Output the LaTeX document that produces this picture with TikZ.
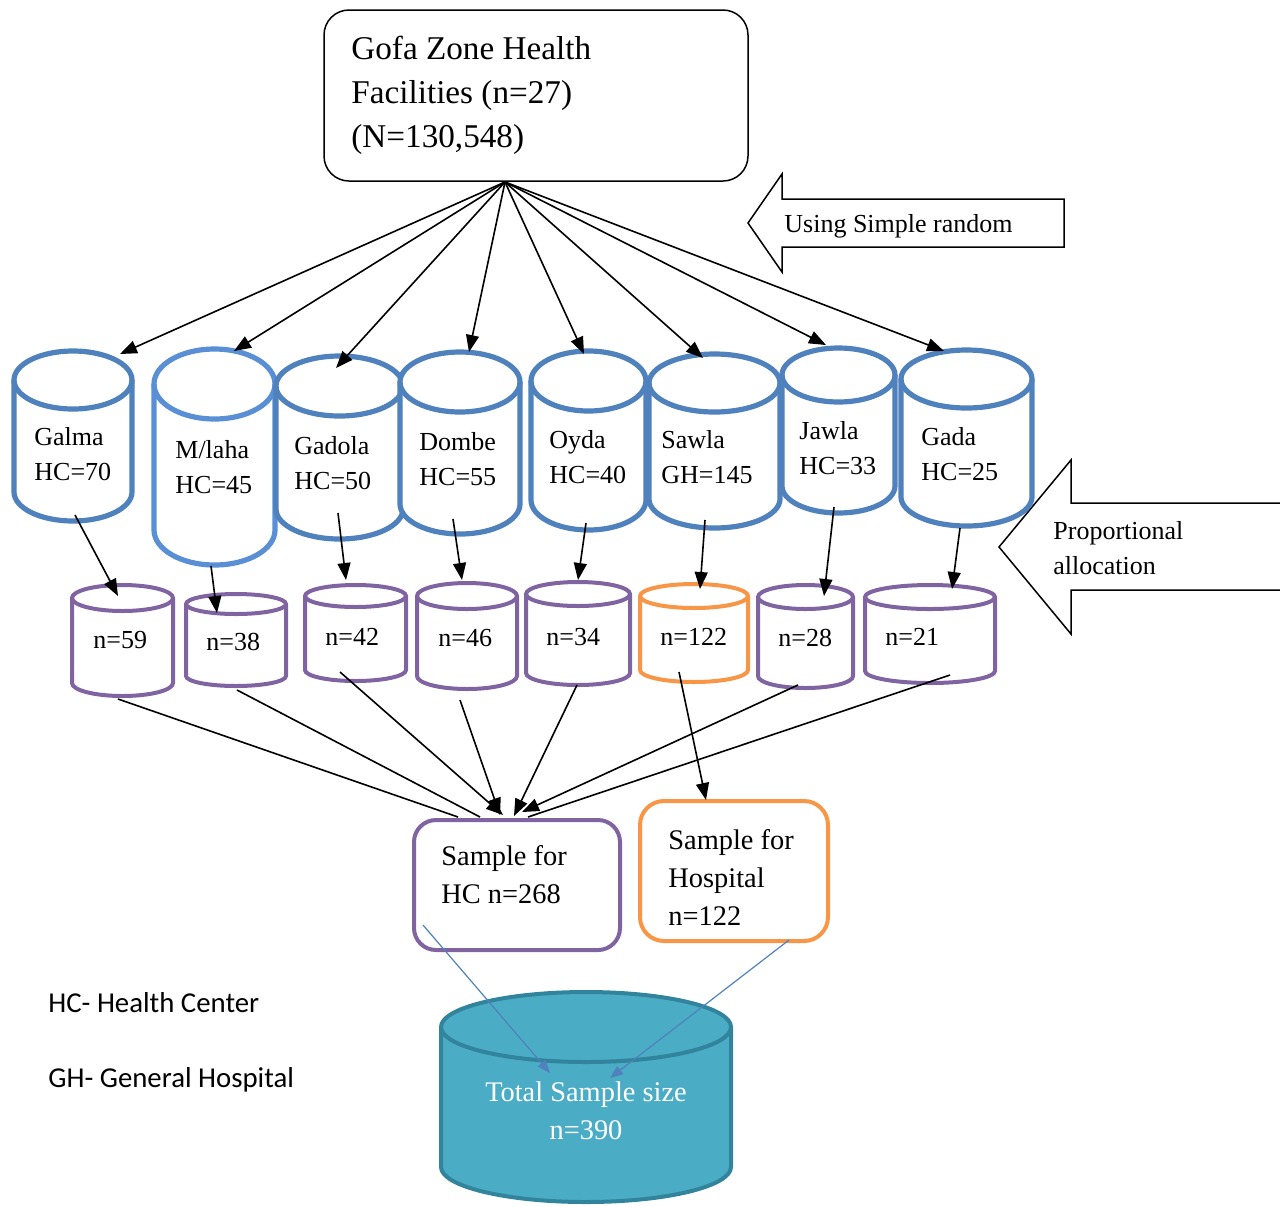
\documentclass[tikz,border=0pt]{standalone}
\usepackage{fontspec}
\setmainfont{Liberation Serif}
\newfontfamily\legendfont{Carlito}
\usetikzlibrary{arrows.meta}

\definecolor{drumblue}{HTML}{4F81BD}
\definecolor{drumbluelight}{HTML}{5A8FD6}
\definecolor{sampviolet}{HTML}{8064A2}
\definecolor{samporange}{HTML}{F79646}
\definecolor{totalfill}{HTML}{4BACC6}
\definecolor{totaledge}{HTML}{31849B}

% drum: style, left x, right x, top y, bottom y, lid half-height
\newcommand\drum[6]{%
  \pgfmathsetmacro\drumrx{(#3-#2)/4}%
  \pgfmathsetmacro\drumry{#6/2}%
  \path[#1] (#2,{#4+#6}) -- (#2,{#5-#6})
    arc[start angle=180,end angle=360,x radius=\drumrx pt,y radius=\drumry pt]
    -- (#3,{#4+#6})
    arc[start angle=0,end angle=180,x radius=\drumrx pt,y radius=\drumry pt] -- cycle;
  \path[#1,fill=none] (#2,{#4+#6})
    arc[start angle=180,end angle=360,x radius=\drumrx pt,y radius=\drumry pt];
}

\tikzset{
  bigdrum/.style={draw=drumblue,line width=2.6pt,fill=white},
  bigdrumlight/.style={draw=drumbluelight,line width=2.6pt,fill=white},
  smalldrum/.style={draw=sampviolet,line width=2pt,fill=white},
  hospdrum/.style={draw=samporange,line width=2pt,fill=white},
  totaldrum/.style={draw=totaledge,line width=2pt,fill=totalfill},
  feed/.style={draw=black,line width=0.8pt,-{Triangle[length=8.5pt,width=6.5pt]}},
  plainfeed/.style={draw=black,line width=0.8pt},
  bluefeed/.style={draw=drumblue,line width=0.6pt,-{Triangle[length=6.5pt,width=5pt]}},
  blockarrow/.style={draw=black,line width=0.75pt,line join=miter},
  lbl/.style={anchor=west,inner sep=0pt,align=left,font=\fontsize{13}{17.25}\selectfont},
  boxlbl/.style={anchor=west,inner sep=0pt,align=left,font=\fontsize{14.2}{19}\selectfont},
  legend/.style={anchor=west,inner sep=0pt,font=\legendfont\fontsize{14.4}{17}\selectfont},
}

\begin{document}
\begin{tikzpicture}[x=0.5pt,y=-0.5pt]
\useasboundingbox (0,0) rectangle (1280,1206);

% top box
\node[draw,line width=0.75pt,rounded corners=12.5pt,minimum width=212pt,
      minimum height=85.5pt,inner sep=0pt] (zone) at (536,95.5) {};
\node[anchor=west,inner sep=0pt,align=left,font=\fontsize{16.6}{22}\selectfont]
  (zonetext) at (351,95) {Gofa Zone Health\\Facilities (n=27)\\(N=130,548)};

% block arrows
\draw[blockarrow] (748,223) -- (782,174) -- (782,199) -- (1064,199)
  -- (1064,247) -- (782,247) -- (782,272) -- cycle;
\node[lbl] (simple) at (784,226) {Using Simple random};
\draw[blockarrow] (1280,503) -- (1071,503) -- (1071,460) -- (999,547)
  -- (1071,634) -- (1071,590) -- (1280,590);
\node[lbl] (prop) at (1053,548) {Proportional\\allocation};

% facility drums
\drum{bigdrum}{14}{132}{351}{521}{29}
\drum{bigdrumlight}{154}{275}{349}{565}{35}
\drum{bigdrum}{276}{403}{356}{539}{30}
\drum{bigdrum}{400}{520}{352}{534}{30}
\drum{bigdrum}{531}{646}{351}{530}{30}
\drum{bigdrum}{649}{780}{354}{528}{29}
\drum{bigdrum}{782}{895}{348}{513}{27}
\drum{bigdrum}{901}{1032}{350}{526}{29}

\node[lbl] (galma)  at (34,454)  {Galma\\HC=70};
\node[lbl] (mlaha)  at (175,467) {M/laha\\HC=45};
\node[lbl] (gadola) at (294,463) {Gadola\\HC=50};
\node[lbl] (dombe)  at (419,459) {Dombe\\HC=55};
\node[lbl] (oyda)   at (549,457) {Oyda\\HC=40};
\node[lbl] (sawla)  at (661,457) {Sawla\\GH=145};
\node[lbl] (jawla)  at (799,448) {Jawla\\HC=33};
\node[lbl] (gada)   at (921,454) {Gada\\HC=25};

% sample drums
\drum{smalldrum}{72}{173}{585}{696}{13}
\drum{smalldrum}{186}{286}{594}{686}{10}
\drum{smalldrum}{305}{406}{585}{681}{11}
\drum{smalldrum}{417}{517}{583}{689}{13}
\drum{smalldrum}{526}{630}{582}{685}{12}
\drum{hospdrum}{640}{748}{584}{682}{12}
\drum{smalldrum}{758}{853}{585}{688}{12}
\drum{smalldrum}{865}{995}{585}{683}{12}

\node[lbl] (s59)  at (93,640)  {n=59};
\node[lbl] (s38)  at (206,642) {n=38};
\node[lbl] (s42)  at (325,637) {n=42};
\node[lbl] (s46)  at (438,638) {n=46};
\node[lbl] (s34)  at (546,637) {n=34};
\node[lbl] (s122) at (660,637) {n=122};
\node[lbl] (s28)  at (778,638) {n=28};
\node[lbl] (s21)  at (885,637) {n=21};

% summary boxes
\node[draw=sampviolet,line width=2pt,rounded corners=11pt,minimum width=103pt,
      minimum height=65pt,inner sep=0pt] (hcbox) at (517,885) {};
\node[boxlbl] (hctext) at (441,875) {Sample for\\HC n=268};
\node[draw=samporange,line width=2pt,rounded corners=12pt,minimum width=94pt,
      minimum height=70pt,inner sep=0pt] (hospbox) at (734,871) {};
\node[boxlbl] (hosptext) at (668,877) {Sample for\\Hospital\\n=122};

% total drum
\drum{totaldrum}{441}{731}{992}{1202}{35}
\node[anchor=center,inner sep=0pt,align=center,text=white,
      font=\fontsize{14.2}{19}\selectfont] (total) at (586,1111)
  {Total Sample size\\n=390};

% legend
\node[legend] (leghc) at (48,1003) {HC- Health Center};
\node[legend] (leggh) at (48,1080) {GH- General Hospital};

% connector end points
\coordinate (fan) at (505,182);
\coordinate (t1) at (120,354);  \coordinate (t2) at (234,351);
\coordinate (t3) at (336,368);  \coordinate (t4) at (469,352);
\coordinate (t5) at (584,354);  \coordinate (t6) at (703,358);
\coordinate (t7) at (826,345);  \coordinate (t8) at (944,351);

\coordinate (f1) at (75,515);   \coordinate (d1) at (118,596);
\coordinate (f2) at (211,566);  \coordinate (d2) at (217,613);
\coordinate (f3) at (338,513);  \coordinate (d3) at (346,580);
\coordinate (f4) at (453,519);  \coordinate (d4) at (462,580);
\coordinate (f5) at (586,523);  \coordinate (d5) at (578,580);
\coordinate (f6) at (705,520);  \coordinate (d6) at (700,589);
\coordinate (f7) at (834,507);  \coordinate (d7) at (824,596);
\coordinate (f8) at (960,528);  \coordinate (d8) at (952,589);

\coordinate (b1) at (118,699);  \coordinate (h1) at (458,817);
\coordinate (b2) at (237,690);  \coordinate (h2) at (480,817);
\coordinate (b3) at (340,672);  \coordinate (h3) at (503,815);
\coordinate (b4) at (460,700);  \coordinate (h4) at (500,815);
\coordinate (b5) at (577,685);  \coordinate (h5) at (514,816);
\coordinate (b6) at (679,672);  \coordinate (h6) at (706,800);
\coordinate (b7) at (798,685);  \coordinate (h7) at (522,812);
\coordinate (b8) at (950,675);  \coordinate (h8) at (528,817);

\coordinate (hcout) at (423,925);   \coordinate (hcin) at (550,1073);
\coordinate (hospout) at (789,940); \coordinate (hospin) at (610,1078);

% random selection fan
\foreach \t in {t1,t2,t3,t4,t5,t6,t7,t8}
  \draw[feed] (fan) -- (\t);

% proportional allocation
\foreach \a/\b in {f1/d1,f2/d2,f3/d3,f4/d4,f5/d5,f6/d6,f7/d7,f8/d8}
  \draw[feed] (\a) -- (\b);

% pooling into summaries
\draw[plainfeed] (b1) -- (h1);
\draw[plainfeed] (b2) -- (h2);
\draw[feed] (b3) -- (h3);
\draw[feed] (b4) -- (h4);
\draw[feed] (b5) -- (h5);
\draw[feed] (b6) -- (h6);
\draw[feed] (b7) -- (h7);
\draw[plainfeed] (b8) -- (h8);

% totals
\draw[bluefeed] (hcout) -- (hcin);
\draw[bluefeed] (hospout) -- (hospin);
\end{tikzpicture}
\end{document}
